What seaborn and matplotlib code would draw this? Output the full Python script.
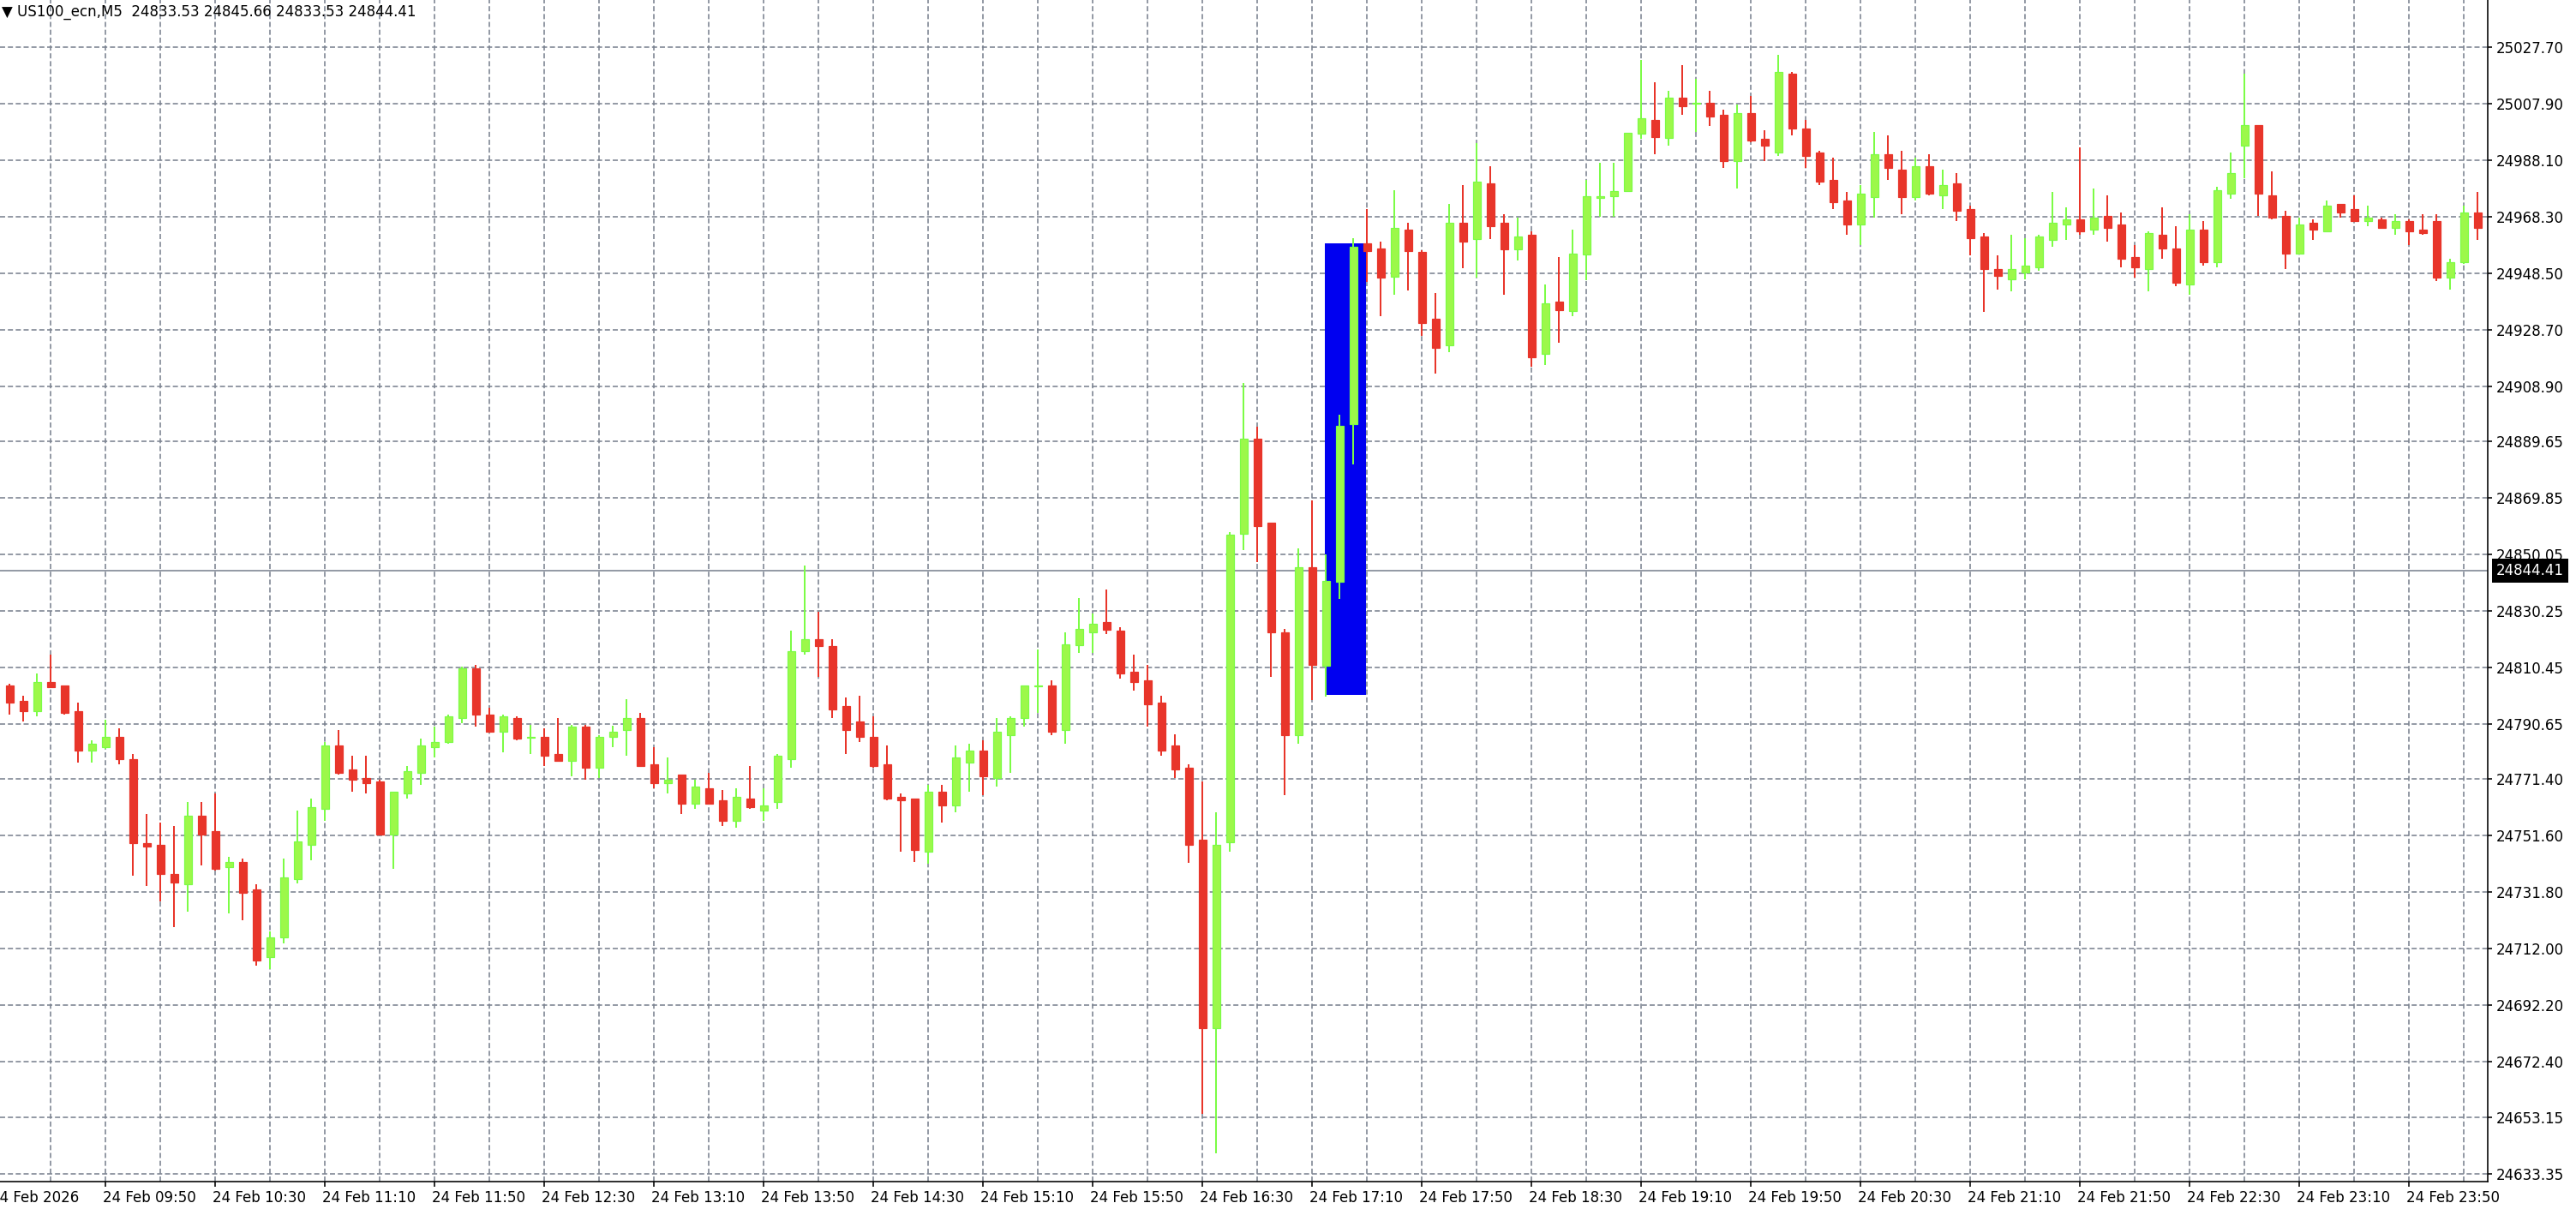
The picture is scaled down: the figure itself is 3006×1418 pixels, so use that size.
import numpy as np
import matplotlib
matplotlib.use("Agg")
import matplotlib.pyplot as plt
import seaborn as sns
from matplotlib.patches import Rectangle

# ---------------- data (5-minute bars) ----------------
opens = [24804.2, 24798.8, 24795.2, 24805.4, 24804.2, 24795.2, 24781.4, 24782.6, 24786.2, 24778.4,
         24749.0, 24748.4, 24738.2, 24734.6, 24758.6, 24753.2, 24740.6, 24742.4, 24732.8, 24709.0,
         24716.0, 24736.4, 24748.4, 24761.0, 24783.2, 24774.8, 24771.8, 24770.6, 24752.0, 24766.4,
         24773.6, 24782.6, 24784.4, 24792.8, 24810.2, 24794.0, 24788.0, 24792.8, 24785.8, 24786.2,
         24780.2, 24777.8, 24789.8, 24775.4, 24786.2, 24788.6, 24792.8, 24776.6, 24770.0, 24773.0,
         24762.8, 24768.2, 24764.0, 24756.8, 24764.6, 24760.4, 24763.4, 24778.4, 24816.2, 24820.4,
         24818.0, 24797.0, 24791.6, 24786.2, 24776.6, 24765.2, 24764.6, 24746.0, 24767.0, 24762.2,
         24777.2, 24781.4, 24771.8, 24786.8, 24792.8, 24803.9, 24804.2, 24788.7, 24818.2, 24822.9,
         24826.3, 24823.4, 24808.9, 24806.0, 24798.1, 24783.1, 24775.4, 24750.2, 24684.3, 24749.3,
         24857.3, 24890.6, 24861.2, 24822.7, 24786.9, 24845.6, 24811.0, 24840.4, 24895.6, 24958.9,
         24957.3, 24947.2, 24963.8, 24956.1, 24932.7, 24923.3, 24966.2, 24960.5, 24980.0, 24966.1,
         24956.8, 24962.1, 24920.3, 24938.7, 24935.2, 24955.0, 24975.0, 24975.4, 24977.2, 24997.5,
         25002.2, 24995.8, 25010.0, 25007.9, 25008.2, 25004.0, 24987.9, 25004.6, 24995.6, 24990.9,
         25018.4, 24999.2, 24990.8, 24981.2, 24974.0, 24965.7, 24975.2, 24990.2, 24984.8, 24975.2,
         24986.0, 24975.8, 24980.0, 24971.0, 24961.4, 24950.0, 24946.4, 24948.8, 24950.6, 24960.2,
         24965.6, 24967.4, 24963.8, 24968.6, 24965.6, 24954.2, 24950.0, 24962.0, 24957.2, 24944.6,
         24963.8, 24952.4, 24976.4, 24993.2, 25000.4, 24975.8, 24968.6, 24955.4, 24966.2, 24963.2,
         24972.8, 24971.0, 24966.8, 24967.4, 24964.4, 24966.8, 24963.8, 24966.8, 24947.0, 24952.4,
         24969.8]
highs = [24804.8, 24800.6, 24808.4, 24815.0, 24804.2, 24798.2, 24785.0, 24792.2, 24789.2, 24780.2,
         24759.2, 24756.2, 24755.0, 24763.4, 24763.4, 24766.4, 24744.2, 24743.6, 24734.6, 24718.0,
         24743.6, 24760.4, 24764.6, 24784.4, 24788.6, 24779.6, 24779.6, 24771.2, 24767.0, 24776.0,
         24785.6, 24789.8, 24794.0, 24810.8, 24811.4, 24796.4, 24794.0, 24793.4, 24790.4, 24789.2,
         24792.8, 24790.4, 24790.4, 24786.8, 24790.0, 24799.4, 24794.6, 24782.6, 24779.0, 24773.0,
         24771.2, 24773.6, 24767.6, 24768.2, 24776.0, 24768.2, 24780.2, 24823.4, 24846.2, 24830.0,
         24820.4, 24800.0, 24800.6, 24793.4, 24783.2, 24766.4, 24764.6, 24769.4, 24769.4, 24783.2,
         24783.8, 24785.0, 24792.8, 24793.4, 24804.2, 24816.8, 24806.0, 24822.7, 24834.8, 24829.4,
         24837.8, 24824.5, 24815.0, 24811.4, 24800.6, 24787.2, 24776.5, 24770.7, 24759.7, 24858.0,
         24910.2, 24894.9, 24861.2, 24824.0, 24852.2, 24869.0, 24850.2, 24898.9, 24960.7, 24971.0,
         24959.5, 24977.5, 24966.2, 24956.6, 24941.6, 24972.8, 24979.5, 24994.0, 24986.0, 24969.2,
         24968.1, 24963.2, 24944.7, 24954.2, 24963.7, 24981.2, 24987.2, 24987.2, 24997.8, 25023.2,
         25015.4, 25012.4, 25021.4, 25016.6, 25012.4, 25005.8, 25007.6, 25010.6, 24998.6, 25025.0,
         25019.0, 25002.2, 24991.4, 24989.0, 24977.0, 24979.4, 24998.0, 24996.8, 24991.4, 24989.0,
         24990.2, 24984.8, 24983.6, 24972.2, 24962.6, 24954.8, 24962.0, 24960.8, 24962.0, 24977.0,
         24971.6, 24992.6, 24978.2, 24975.8, 24969.8, 24958.4, 24963.2, 24971.6, 24965.0, 24969.2,
         24966.8, 24978.8, 24990.8, 25018.4, 25000.4, 24984.2, 24970.4, 24968.0, 24967.4, 24974.0,
         24972.8, 24975.8, 24972.2, 24968.0, 24969.2, 24967.4, 24969.2, 24969.2, 24953.6, 24972.2,
         24977.0]
lows = [24794.0, 24791.6, 24793.4, 24803.6, 24794.0, 24777.2, 24777.2, 24782.0, 24776.6, 24737.6,
        24734.0, 24728.6, 24719.6, 24725.0, 24741.2, 24739.4, 24724.4, 24722.0, 24706.0, 24705.0,
        24714.0, 24735.0, 24743.0, 24756.8, 24773.0, 24767.0, 24766.4, 24752.0, 24740.0, 24764.6,
        24769.4, 24779.0, 24783.8, 24791.0, 24789.8, 24788.0, 24780.8, 24785.0, 24780.2, 24776.0,
        24777.8, 24772.4, 24771.2, 24771.8, 24782.6, 24779.6, 24776.0, 24768.2, 24766.4, 24759.2,
        24761.0, 24762.8, 24755.0, 24754.4, 24761.0, 24756.8, 24761.0, 24775.4, 24815.0, 24807.2,
        24792.8, 24780.2, 24784.4, 24775.4, 24764.0, 24746.0, 24742.4, 24741.8, 24756.2, 24759.8,
        24767.0, 24765.8, 24768.8, 24773.6, 24789.8, 24794.6, 24786.8, 24783.7, 24815.7, 24815.7,
        24822.2, 24806.7, 24802.4, 24789.8, 24779.7, 24771.8, 24742.2, 24654.2, 24640.4, 24746.0,
        24851.7, 24847.4, 24807.2, 24765.8, 24783.8, 24799.1, 24800.2, 24834.5, 24881.7, 24945.4,
        24933.4, 24941.1, 24942.4, 24926.7, 24913.5, 24920.8, 24950.2, 24947.1, 24960.4, 24941.1,
        24953.1, 24915.9, 24916.5, 24924.3, 24933.4, 24946.0, 24968.2, 24968.2, 24977.2, 24995.7,
        24990.3, 24993.3, 25004.1, 24998.1, 25000.0, 24985.5, 24978.3, 24994.5, 24987.9, 24989.7,
        24996.9, 24985.5, 24979.5, 24971.1, 24962.1, 24958.4, 24968.0, 24981.2, 24969.2, 24974.0,
        24975.8, 24971.0, 24966.8, 24954.8, 24935.0, 24942.8, 24942.2, 24946.4, 24949.4, 24957.8,
        24960.2, 24962.0, 24962.0, 24959.6, 24950.6, 24947.0, 24942.2, 24953.6, 24944.0, 24941.0,
        24951.2, 24950.6, 24974.6, 24981.8, 24968.6, 24967.4, 24950.0, 24955.4, 24960.2, 24963.2,
        24968.0, 24966.8, 24965.0, 24964.4, 24962.0, 24958.4, 24962.0, 24945.8, 24942.8, 24951.8,
        24960.2]
closes = [24798.2, 24795.2, 24805.4, 24803.6, 24794.6, 24781.4, 24783.8, 24786.2, 24778.4, 24749.0,
          24747.8, 24738.2, 24735.2, 24758.6, 24752.0, 24740.0, 24742.4, 24731.6, 24708.0, 24716.0,
          24737.0, 24749.6, 24761.6, 24783.2, 24773.6, 24771.2, 24770.0, 24752.0, 24767.0, 24774.2,
          24783.2, 24784.4, 24793.4, 24810.2, 24794.0, 24788.0, 24793.4, 24785.6, 24786.2, 24779.6,
          24777.8, 24789.8, 24775.4, 24786.2, 24788.0, 24792.8, 24776.0, 24770.0, 24771.2, 24762.8,
          24768.8, 24762.8, 24756.8, 24765.2, 24761.6, 24762.2, 24779.6, 24816.2, 24820.4, 24818.0,
          24795.8, 24788.6, 24786.2, 24776.0, 24764.6, 24764.0, 24746.6, 24767.0, 24762.2, 24779.0,
          24781.4, 24772.4, 24788.0, 24792.8, 24804.2, 24804.3, 24788.0, 24818.6, 24824.0, 24825.8,
          24823.6, 24808.5, 24805.3, 24797.7, 24781.5, 24774.8, 24748.4, 24684.3, 24748.4, 24856.9,
          24890.6, 24860.0, 24822.9, 24786.9, 24845.6, 24811.4, 24840.7, 24895.2, 24957.8, 24956.2,
          24947.1, 24964.3, 24956.2, 24931.0, 24922.5, 24966.1, 24959.7, 24980.6, 24965.1, 24956.8,
          24961.3, 24919.0, 24937.9, 24935.7, 24955.3, 24975.6, 24975.4, 24977.4, 24997.8, 25002.7,
          24996.3, 25009.9, 25007.1, 25008.3, 25003.5, 24987.9, 25004.5, 24995.1, 24993.3, 25018.9,
          24999.3, 24989.7, 24980.7, 24973.5, 24965.7, 24976.4, 24990.2, 24985.4, 24975.2, 24986.0,
          24976.4, 24979.4, 24970.4, 24960.8, 24950.0, 24947.6, 24950.0, 24951.2, 24961.4, 24966.2,
          24967.4, 24963.2, 24968.0, 24964.4, 24953.6, 24950.6, 24962.6, 24957.2, 24945.2, 24963.8,
          24952.4, 24977.6, 24983.6, 25000.4, 24976.4, 24968.0, 24955.4, 24965.6, 24963.8, 24972.2,
          24969.8, 24966.8, 24968.0, 24964.4, 24966.8, 24963.2, 24962.6, 24947.0, 24952.4, 24969.8,
          24964.4]

price_ticks = [25027.70, 25007.90, 24988.10, 24968.30, 24948.50, 24928.70, 24908.90, 24889.65,
               24869.85, 24850.05, 24830.25, 24810.45, 24790.65, 24771.40, 24751.60, 24731.80,
               24712.00, 24692.20, 24672.40, 24653.15, 24633.35]
time_labels = ["24 Feb 2026", "24 Feb 09:50", "24 Feb 10:30", "24 Feb 11:10", "24 Feb 11:50",
               "24 Feb 12:30", "24 Feb 13:10", "24 Feb 13:50", "24 Feb 14:30", "24 Feb 15:10",
               "24 Feb 15:50", "24 Feb 16:30", "24 Feb 17:10", "24 Feb 17:50", "24 Feb 18:30",
               "24 Feb 19:10", "24 Feb 19:50", "24 Feb 20:30", "24 Feb 21:10", "24 Feb 21:50",
               "24 Feb 22:30", "24 Feb 23:10", "24 Feb 23:50"]
current_price = 24844.41
header_text = "\u25BC US100_ecn,M5  24833.53 24845.66 24833.53 24844.41"
# blue rectangle object (bar-index span and price span)
rect_bar_start, rect_bar_end = 95.94, 98.94
rect_price_low, rect_price_high = 24800.8, 24959.0

# ---------------- style ----------------
sns.set_theme(style="white")
plt.rcParams["font.family"] = ["DejaVu Sans"]
plt.rcParams["lines.scale_dashes"] = False
plt.rcParams["text.color"] = "black"

W, H = 3006, 1418
PX = 0.72  # points per pixel at dpi 100
AX_RIGHT, AX_BOTTOM = 2903, 1379
BAR_STEP = 16.0

fig = plt.figure(figsize=(W / 100, H / 100), dpi=100, facecolor="white")
ax = fig.add_axes([0, (H - AX_BOTTOM) / H, AX_RIGHT / W, AX_BOTTOM / H])
ax.set_facecolor("white")

n = len(opens)
idx = np.arange(n)
ax.set_xlim(-11 / BAR_STEP, (AX_RIGHT - 11) / BAR_STEP)
ax.set_ylim(25044.24 - AX_BOTTOM * 0.3, 25044.24)

grid_color = "#7b8390"
dash = (0, (4.3, 2.3))
for p in price_ticks:
    ax.axhline(p, color=grid_color, lw=1.6 * PX, ls=dash, zorder=1)
for g in range(3, n, 4):
    ax.axvline(g, color=grid_color, lw=1.6 * PX, ls=dash, zorder=1)

ax.axhline(current_price, color=grid_color, lw=1.6 * PX, zorder=1.5)

ax.add_patch(Rectangle((rect_bar_start, rect_price_low), rect_bar_end - rect_bar_start,
                       rect_price_high - rect_price_low, facecolor="#0000f0",
                       edgecolor="none", zorder=2))

o = np.array(opens)
c = np.array(closes)
bull = c >= o
up_edge, up_fill, down_col = "#7cfc46", "#9cf84a", "#e8352a"
wick_cols = [up_edge if b else down_col for b in bull]
fills = [up_fill if b else down_col for b in bull]
edges = [up_edge if b else down_col for b in bull]

ax.vlines(idx, lows, highs, colors=wick_cols, lw=2 * PX, zorder=3)
bottoms = np.minimum(o, c)
heights = np.maximum(np.abs(c - o), 0.3)
ax.bar(idx, heights, bottom=bottoms, width=9 / BAR_STEP, color=fills,
       edgecolor=edges, linewidth=1.2 * PX, zorder=4)

# spines
for s in ["left", "top"]:
    ax.spines[s].set_visible(False)
for s in ["right", "bottom"]:
    ax.spines[s].set_color("black")
    ax.spines[s].set_linewidth(1.6 * PX)

# y axis on the right
ax.yaxis.tick_right()
ax.set_yticks(price_ticks)
ax.set_yticklabels([f"{p:.2f}" for p in price_ticks])
ax.tick_params(axis="y", right=True, labelright=True, left=False, labelleft=False,
               direction="out", length=5 * PX, width=1.6 * PX, color="black",
               labelsize=12, labelcolor="black", pad=5 * PX)

# x axis ticks and labels (MT4 style: left aligned at tick)
label_pos = [-1.1875] + [7 + 8 * i for i in range(len(time_labels) - 1)]
ax.set_xticks(label_pos[1:])
ax.set_xticklabels([])
ax.tick_params(axis="x", bottom=True, direction="out", length=6 * PX, width=1.6 * PX,
               color="black")
for lab, pos in zip(time_labels, label_pos):
    ax.text(pos - 3 / BAR_STEP, -19 / AX_BOTTOM, lab, transform=ax.get_xaxis_transform(),
            ha="left", va="center", fontsize=12, color="black", clip_on=False)

# current price tag
ax.text((2913) / AX_RIGHT, current_price, f"{current_price:.2f}",
        transform=ax.get_yaxis_transform(), ha="left", va="center", color="white",
        fontsize=12, clip_on=False, zorder=10,
        bbox=dict(boxstyle="square,pad=0.28", fc="black", ec="none"))

# header
fig.text(2 / W, 1 - 14 / H, header_text, ha="left", va="center", fontsize=12, color="black")

fig.savefig("out.png", dpi=100, facecolor="white")
